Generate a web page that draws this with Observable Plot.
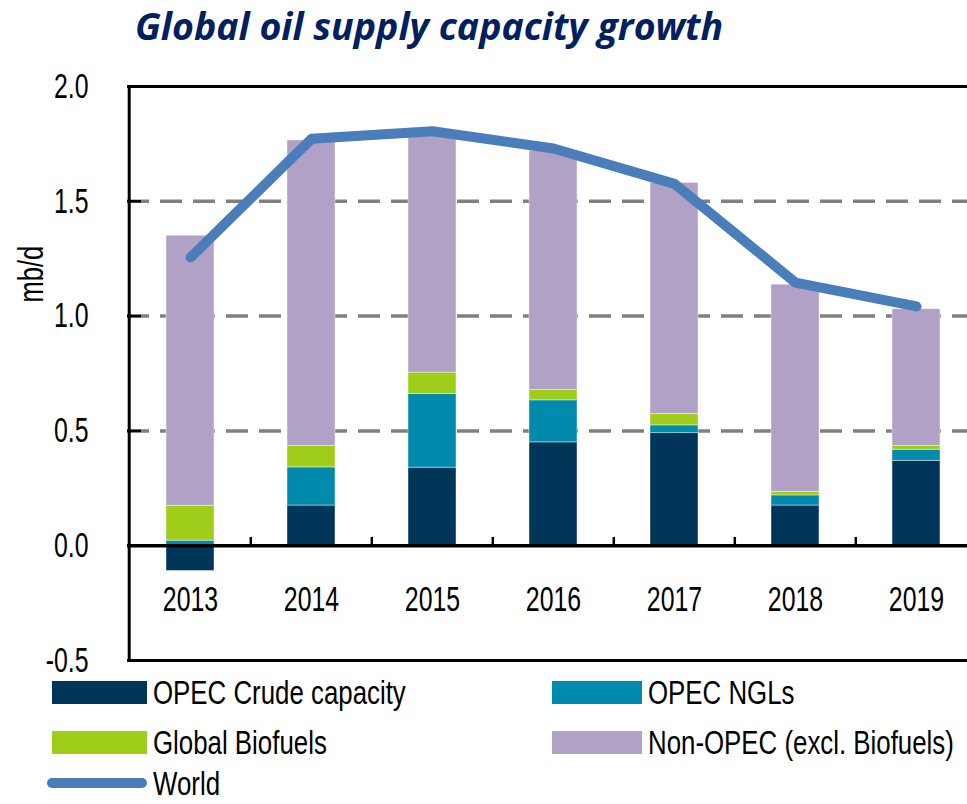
<!DOCTYPE html>
<html><head><meta charset="utf-8">
<script src="https://cdn.jsdelivr.net/npm/d3@7"></script>
<script src="https://cdn.jsdelivr.net/npm/@observablehq/plot@0.6"></script>
<style>
body{margin:0;background:#fff;overflow:hidden;width:967px;height:804px;position:relative;}
#title{position:absolute;left:0;top:0;height:56px;box-sizing:border-box;padding-left:135px;padding-top:4px;font-family:"Open Sans",sans-serif;font-weight:700;font-style:italic;font-size:37.5px;color:#002060;line-height:44px;white-space:nowrap;}
#chart{position:absolute;left:0;top:56px;}
#chart svg{display:block;}
#legend{position:absolute;left:0;top:666px;width:967px;height:138px;font-family:"Liberation Sans",Arial,sans-serif;font-size:34px;color:#000;}
.item{position:absolute;display:flex;align-items:center;height:30px;white-space:nowrap;}
.sw{display:inline-block;height:23px;margin-right:6px;flex:none;}
.ln{display:inline-block;height:10px;border-radius:5px;margin-right:6px;flex:none;}
.lt{display:inline-block;line-height:30px;transform:scaleX(0.76);transform-origin:left center;}
</style>
</head><body>
<div id="title">Global oil supply capacity growth</div>
<div id="chart"></div>
<div id="legend"></div>
<script>
const years = ["2013","2014","2015","2016","2017","2018","2019"];
const opecCrude = [-0.11, 0.175, 0.34, 0.45, 0.49, 0.175, 0.37];
const opecNGLs  = [0.022, 0.166, 0.32, 0.183, 0.034, 0.044, 0.048];
const biofuels  = [0.152, 0.094, 0.094, 0.045, 0.05, 0.016, 0.017];
const nonOpec   = [1.176, 1.33, 1.035, 1.042, 1.006, 0.902, 0.595];
const world     = [1.255, 1.772, 1.805, 1.73, 1.576, 1.146, 1.042];
const seriesNames = ["OPEC Crude capacity","OPEC NGLs","Global Biofuels","Non-OPEC (excl. Biofuels)"];
const seriesColors = ["#00355A","#008BAD","#9FCD19","#B2A1C7"];
const worldName = "World";
const worldColor = "#4A7EBB";
const yTicks = [-0.5, 0, 0.5, 1.0, 1.5, 2.0];
const gridValues = [0.5, 1.0, 1.5];
const frameValues = [2.0, -0.5];
const yLabel = "mb/d";

const seriesValues = [opecCrude, opecNGLs, biofuels, nonOpec];
const rows = years.flatMap((yr, i) => seriesValues.map((arr, j) => ({year: yr, series: seriesNames[j], value: arr[i]})));
const worldRows = years.map((yr, i) => ({year: yr, value: world[i]}));

const font = '"Liberation Sans",Arial,sans-serif';

const chart = Plot.plot({
  width: 967, height: 624,
  marginTop: 30, marginBottom: 20, marginLeft: 127, marginRight: 0,
  x: {type: "band", domain: years, range: [128.6, 978.6], paddingInner: 0.6, paddingOuter: 0.3, axis: null},
  y: {domain: [-0.5, 2.0], axis: null},
  color: {domain: seriesNames, range: seriesColors},
  style: {fontFamily: font, fontSize: "35px", background: "white", color: "black", overflow: "visible"},
  marks: [
    Plot.ruleY(gridValues, {stroke: "#808080", strokeWidth: 3.5, strokeDasharray: "22,11"}),
    Plot.barY(rows, {x: "year", y: "value", fill: "series", stroke: "#ffffff", strokeWidth: 0.7, strokeOpacity: 0.6}),
    Plot.ruleY([0], {stroke: "black", strokeWidth: 3.5}),
    Plot.ruleY(frameValues, {stroke: "black", strokeWidth: 3}),
    Plot.ruleX(years.slice(1), {x: d => d, y1: 0, y2: 0.036, dx: -60.7, stroke: "black", strokeWidth: 2.5}),
    Plot.axisY(yTicks, {tickSize: -14, tickFormat: () => "", strokeWidth: 2.5, stroke: "black", label: null}),
    Plot.axisY(yTicks, {tickSize: 0, tickPadding: 39, tickFormat: d => d.toFixed(1), fontSize: 35, fill: "black", label: null}),
    Plot.line(worldRows, {x: "year", y: "value", stroke: worldColor, strokeWidth: 10, strokeLinecap: "round", strokeLinejoin: "round"}),
    Plot.text(years, {x: d => d, frameAnchor: "bottom", dy: -61, lineAnchor: "middle", fontSize: 35, fill: "black"}),
    Plot.text([yLabel], {frameAnchor: "left", rotate: -90, dx: -96, dy: -71, fontSize: 36, fill: "black", lineAnchor: "middle"}),
    Plot.ruleX([years[0]], {x: d => d, dx: -61.3, stroke: "black", strokeWidth: 3})
  ]
});
document.getElementById("chart").appendChild(chart);

// condense SVG text horizontally (narrow typeface look)
chart.querySelectorAll("text").forEach(t => {
  if (!t.textContent) return;
  const b = t.getBBox();
  const anchor = getComputedStyle(t).textAnchor;
  const px = anchor === "end" ? b.x + b.width : anchor === "start" ? b.x : b.x + b.width / 2;
  const s = 0.71;
  const prev = t.getAttribute("transform") || "";
  t.setAttribute("transform", `${prev} translate(${px},0) scale(${s},1) translate(${-px},0)`.trim());
});

const legend = document.getElementById("legend");
const positions = [
  {left: 52, top: 11, w: 95},
  {left: 552, top: 11, w: 90},
  {left: 52, top: 61, w: 95},
  {left: 552, top: 61, w: 90}
];
seriesNames.forEach((name, i) => {
  const p = positions[i];
  const el = document.createElement("div");
  el.className = "item";
  el.style.left = p.left + "px";
  el.style.top = p.top + "px";
  el.innerHTML = `<span class="sw" style="width:${p.w}px;background:${seriesColors[i]}"></span><span class="lt">${name}</span>`;
  legend.appendChild(el);
});
const wl = document.createElement("div");
wl.className = "item";
wl.style.left = "47px";
wl.style.top = "102px";
wl.innerHTML = `<span class="ln" style="width:100px;background:${worldColor}"></span><span class="lt">${worldName}</span>`;
legend.appendChild(wl);
</script>
</body></html>
